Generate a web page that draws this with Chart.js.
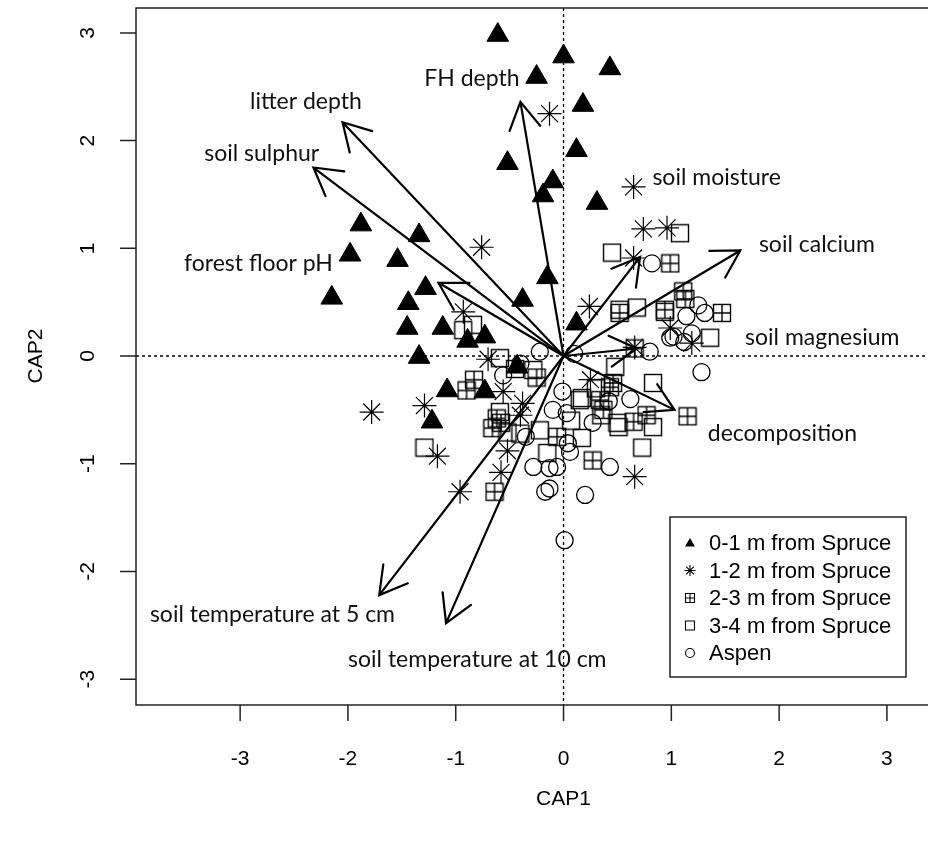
<!DOCTYPE html>
<html>
<head>
<meta charset="utf-8">
<script src="https://cdn.jsdelivr.net/npm/chart.js@4/dist/chart.umd.min.js"></script>
<style>
  html, body { margin: 0; padding: 0; background: #fff; }
  canvas { display: block; }
</style>
</head>
<body>
<canvas id="cap" width="928" height="841"></canvas>
<script>
// axis ticks
const xTicks = [-3, -2, -1, 0, 1, 2, 3];
const yTicks = [-3, -2, -1, 0, 1, 2, 3];

// site scores (CAP1, CAP2)
const spruce01 = [[-0.61,2.98],[0.00,2.78],[0.43,2.67],[-0.25,2.59],[0.18,2.33],[0.12,1.91],[-0.52,1.79],
  [-0.10,1.62],[-0.19,1.49],[0.31,1.42],[-1.88,1.22],[-1.34,1.12],[-1.98,0.94],[-1.54,0.89],[-0.15,0.73],
  [-1.28,0.63],[-2.15,0.54],[-0.38,0.52],[-1.44,0.49],[0.12,0.30],[-1.45,0.26],[-1.12,0.26],[-0.73,0.18],
  [-0.89,0.14],[-1.34,-0.01],[-0.43,-0.10],[-1.08,-0.32],[-0.73,-0.33],[-1.22,-0.61]];
const spruce12 = [[-0.13,2.25],[0.65,1.57],[0.74,1.18],[0.96,1.19],[0.65,0.91],[-0.76,1.01],[-0.93,0.41],
  [0.99,0.26],[1.19,0.12],[0.66,0.08],[-1.78,-0.52],[-1.29,-0.46],[-1.17,-0.93],[-0.96,-1.26],[-0.58,-1.08],
  [-0.56,-0.33],[-0.40,-0.55],[0.66,-1.12],[-0.38,-0.44],[-0.70,-0.03],[-0.52,-0.88],[0.25,-0.22],[0.24,0.46]];
const spruce23 = [[0.99,0.86],[1.11,0.60],[1.13,0.53],[1.47,0.40],[0.94,0.43],[0.66,0.07],[-0.83,-0.22],
  [-0.90,-0.32],[-0.62,-0.58],[-0.64,-1.26],[-0.66,-0.67],[0.27,-0.97],[1.15,-0.56],[0.37,-0.50],[0.65,-0.61],
  [0.77,-0.55],[0.43,-0.29],[-0.06,-0.75],[0.34,-0.41],[0.46,-0.25],[0.52,0.40],[-0.58,-0.62],[-0.25,-0.20]];
const spruce34 = [[1.08,1.14],[0.45,0.96],[1.36,0.17],[0.52,0.43],[0.68,0.45],[0.94,0.41],[-0.93,0.24],
  [-0.84,0.29],[-0.59,-0.02],[-1.29,-0.85],[-0.28,-0.13],[0.15,-0.41],[-0.22,-0.69],[0.50,-0.62],[0.48,-0.10],
  [0.83,-0.25],[0.17,-0.39],[0.51,-0.66],[0.83,-0.66],[0.73,-0.85],[0.17,-0.76],[-0.52,-0.71],[-0.59,-0.52],
  [-0.40,-0.72],[0.07,-0.60],[-0.15,-0.90],[0.30,-0.30],[-0.45,-0.12],[0.35,-0.55]];
const aspen = [[0.82,0.86],[1.25,0.47],[1.31,0.40],[1.02,0.18],[1.19,0.21],[0.80,0.04],[-0.22,0.04],
  [1.28,-0.15],[0.99,0.17],[-0.56,-0.18],[-0.01,-0.33],[0.03,-0.53],[0.27,-0.62],[0.43,-1.03],[-0.06,-1.03],
  [0.06,-0.89],[0.20,-1.29],[0.01,-1.71],[-0.17,-1.26],[-0.13,-1.23],[-0.28,-1.03],[0.04,-0.81],[-0.13,-1.04],
  [1.14,0.37],[-0.40,-0.07],[0.10,0.02],[0.42,-0.42],[-0.35,-0.75],[0.62,-0.40],[1.12,0.13],[-0.10,-0.50]];

const groupNames = ['0-1 m from Spruce', '1-2 m from Spruce', '2-3 m from Spruce', '3-4 m from Spruce', 'Aspen'];

// environmental vectors
const envNames = ['litter depth', 'soil sulphur', 'forest floor pH', 'FH depth', 'soil moisture',
  'soil calcium', 'soil magnesium', 'decomposition', 'soil temperature at 5 cm', 'soil temperature at 10 cm'];
const envX = [-2.05, -2.32, -1.16, -0.40, 0.71, 1.64, 0.68, 1.03, -1.71, -1.09];
const envY = [2.17, 1.75, 0.68, 2.36, 0.92, 0.98, 0.07, -0.50, -2.22, -2.48];
const envLabelX = [-2.39, -2.80, -2.83, -0.85, 1.42, 2.35, 2.40, 2.03, -2.70, -0.80];
const envLabelY = [2.36, 1.88, 0.86, 2.58, 1.66, 1.03, 0.17, -0.72, -2.40, -2.82];

function toXY(arr) { return arr.map(p => ({x: p[0], y: p[1]})); }

// open square with a plus inside (R pch 12) and plain open square
function makeSquare(withCross) {
  const c = document.createElement('canvas');
  c.width = 20; c.height = 20;
  const g = c.getContext('2d');
  g.strokeStyle = '#000';
  g.lineWidth = 1.4;
  g.strokeRect(1.5, 1.5, 17, 17);
  if (withCross) {
    g.beginPath();
    g.moveTo(10, 1.5); g.lineTo(10, 18.5);
    g.moveTo(1.5, 10); g.lineTo(18.5, 10);
    g.stroke();
  }
  return c;
}
const crossSquare = makeSquare(true);
const plainSquare = makeSquare(false);

const overlay = {
  id: 'overlay',
  beforeDatasetsDraw(chart) {
    const {ctx, chartArea: a, scales: {x, y}} = chart;
    const x0 = x.getPixelForValue(0), y0 = y.getPixelForValue(0);
    ctx.save();
    ctx.strokeStyle = '#000';
    ctx.lineWidth = 1.3;
    ctx.setLineDash([3, 3]);
    ctx.beginPath();
    ctx.moveTo(x0, a.top); ctx.lineTo(x0, a.bottom);
    ctx.moveTo(a.left, y0); ctx.lineTo(a.right, y0);
    ctx.stroke();
    ctx.restore();
  },
  afterDatasetsDraw(chart) {
    const {ctx, scales: {x, y}} = chart;
    const x0 = x.getPixelForValue(0), y0 = y.getPixelForValue(0);
    ctx.save();
    ctx.strokeStyle = '#000';
    ctx.lineWidth = 2.2;
    ctx.lineCap = 'round';
    envX.forEach((vx, i) => {
      const px = x.getPixelForValue(vx), py = y.getPixelForValue(envY[i]);
      const ang = Math.atan2(py - y0, px - x0);
      const L = 31, da = Math.PI / 6;
      ctx.beginPath();
      ctx.moveTo(x0, y0); ctx.lineTo(px, py);
      ctx.moveTo(px - L * Math.cos(ang - da), py - L * Math.sin(ang - da));
      ctx.lineTo(px, py);
      ctx.lineTo(px - L * Math.cos(ang + da), py - L * Math.sin(ang + da));
      ctx.stroke();
    });
    ctx.fillStyle = '#111';
    ctx.font = '23px Lato, "Open Sans", sans-serif';
    ctx.textAlign = 'center';
    ctx.textBaseline = 'middle';
    envNames.forEach((n, i) => {
      ctx.fillText(n, x.getPixelForValue(envLabelX[i]), y.getPixelForValue(envLabelY[i]));
    });
    ctx.restore();
  },
  afterDraw(chart) {
    const {ctx, chartArea: a, scales: {x, y}} = chart;
    ctx.save();
    // box (right side falls outside the picture)
    ctx.strokeStyle = '#222';
    ctx.lineWidth = 1.5;
    ctx.beginPath();
    ctx.moveTo(a.right + 2, a.top); ctx.lineTo(a.left, a.top);
    ctx.lineTo(a.left, a.bottom); ctx.lineTo(a.right + 2, a.bottom);
    ctx.stroke();

    ctx.fillStyle = '#000';
    ctx.font = '21px "Liberation Sans", Arial, sans-serif';
    ctx.textAlign = 'center';
    ctx.textBaseline = 'middle';
    ctx.beginPath();
    xTicks.forEach(t => {
      const px = x.getPixelForValue(t);
      ctx.moveTo(px, a.bottom); ctx.lineTo(px, a.bottom + 16);
    });
    yTicks.forEach(t => {
      const py = y.getPixelForValue(t);
      ctx.moveTo(a.left, py); ctx.lineTo(a.left - 16, py);
    });
    ctx.stroke();
    xTicks.forEach(t => ctx.fillText(String(t), x.getPixelForValue(t), a.bottom + 54));
    ctx.fillText('CAP1', (x.getPixelForValue(-3) + x.getPixelForValue(3)) / 2, a.bottom + 94);
    yTicks.forEach(t => {
      ctx.save();
      ctx.translate(a.left - 48, y.getPixelForValue(t));
      ctx.rotate(-Math.PI / 2);
      ctx.fillText(String(t), 0, 0);
      ctx.restore();
    });
    ctx.save();
    ctx.translate(a.left - 100, (y.getPixelForValue(-3) + y.getPixelForValue(3)) / 2);
    ctx.rotate(-Math.PI / 2);
    ctx.fillText('CAP2', 0, 0);
    ctx.restore();

    // legend
    const lx = 670, ly = 517, lw = 236, lh = 160;
    ctx.lineWidth = 1.5;
    ctx.strokeStyle = '#222';
    ctx.strokeRect(lx, ly, lw, lh);
    ctx.font = '22px "Liberation Sans", Arial, sans-serif';
    ctx.textAlign = 'left';
    ctx.strokeStyle = '#000';
    ctx.lineWidth = 1.1;
    groupNames.forEach((n, i) => {
      const cy = ly + 26 + i * 27.5, cx = lx + 20;
      ctx.beginPath();
      if (i === 0) {
        ctx.moveTo(cx, cy - 5); ctx.lineTo(cx + 5, cy + 3.5); ctx.lineTo(cx - 5, cy + 3.5); ctx.closePath();
        ctx.fill();
      } else if (i === 1) {
        for (let k = 0; k < 4; k++) {
          const an = k * Math.PI / 4;
          ctx.moveTo(cx - 5.5 * Math.cos(an), cy - 5.5 * Math.sin(an));
          ctx.lineTo(cx + 5.5 * Math.cos(an), cy + 5.5 * Math.sin(an));
        }
        ctx.stroke();
      } else if (i === 2 || i === 3) {
        ctx.rect(cx - 4.5, cy - 4.5, 9, 9);
        if (i === 2) { ctx.moveTo(cx, cy - 4.5); ctx.lineTo(cx, cy + 4.5); ctx.moveTo(cx - 4.5, cy); ctx.lineTo(cx + 4.5, cy); }
        ctx.stroke();
      } else {
        ctx.arc(cx, cy, 4.5, 0, Math.PI * 2);
        ctx.stroke();
      }
      ctx.fillText(n, lx + 39, cy + 1);
    });
    ctx.restore();
  }
};

new Chart(document.getElementById('cap'), {
  type: 'scatter',
  data: {
    datasets: [
      { label: groupNames[0], data: toXY(spruce01), pointStyle: 'triangle', pointRadius: 12.5,
        backgroundColor: '#000', borderColor: '#000', borderWidth: 1 },
      { label: groupNames[1], data: toXY(spruce12), pointStyle: 'star', pointRadius: 12,
        backgroundColor: 'rgba(0,0,0,0)', borderColor: '#000', borderWidth: 1.2 },
      { label: groupNames[2], data: toXY(spruce23), pointStyle: crossSquare, pointRadius: 10 },
      { label: groupNames[3], data: toXY(spruce34), pointStyle: plainSquare, pointRadius: 10 },
      { label: groupNames[4], data: toXY(aspen), pointStyle: 'circle', pointRadius: 8.5,
        backgroundColor: 'rgba(0,0,0,0)', borderColor: '#000', borderWidth: 1.3 }
    ]
  },
  options: {
    responsive: false,
    devicePixelRatio: 1,
    animation: false,
    events: [],
    clip: false,
    layout: { autoPadding: false, padding: { left: 136, right: 0, top: 8, bottom: 136 } },
    scales: {
      x: { type: 'linear', display: false, min: -3.966, max: 3.381 },
      y: { type: 'linear', display: false, min: -3.240, max: 3.231 }
    },
    plugins: { legend: { display: false }, tooltip: { enabled: false } }
  },
  plugins: [overlay]
});
</script>
</body>
</html>
